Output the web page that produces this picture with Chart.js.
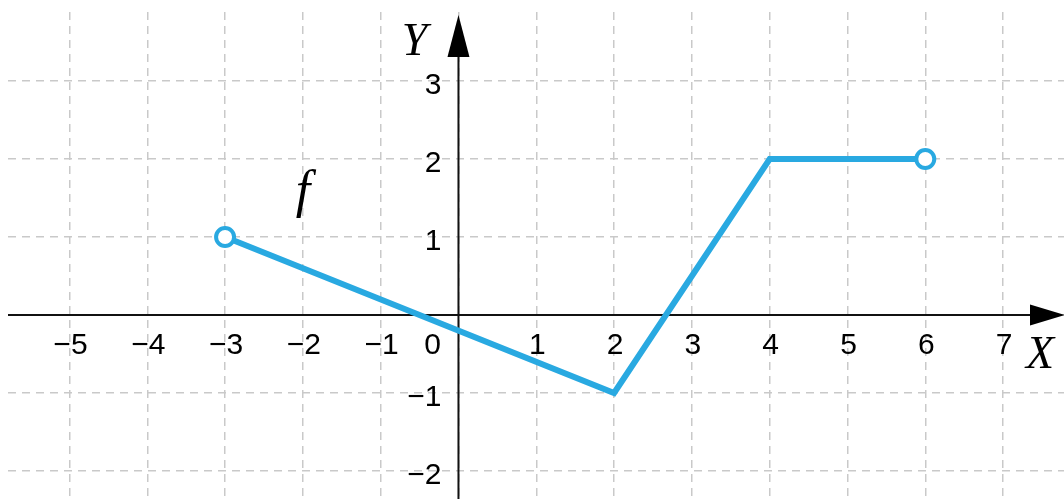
<!DOCTYPE html>
<html>
<head>
<meta charset="utf-8">
<script src="https://cdn.jsdelivr.net/npm/chart.js@4"></script>
<style>
  body { margin: 0; background: #fff; }
  #wrap { width: 1064px; height: 499px; position: relative; }
</style>
</head>
<body>
<div id="wrap"><canvas id="chart"></canvas></div>
<script>
// graph of f: corner points, open ends marked
const xValues = [-3, 2, 4, 6]
const yValues = [1, -1, 2, 2]
const openEnds = [true, false, false, true]

// tick labels
const xTicks = [-5, -4, -3, -2, -1, 1, 2, 3, 4, 5, 6, 7]
const yTicks = [-2, -1, 1, 2, 3]

const BLUE = '#29a9e1'
const LABEL_FONT = "30px 'Liberation Sans', Arial, sans-serif"
const ITALIC_FONT = "italic 46px 'Liberation Serif', 'Times New Roman', serif"

const fmt = (v) => (v < 0 ? '\u2212' + Math.abs(v) : String(v))

const axesPlugin = {
  id: 'axes',
  beforeDatasetsDraw(chart) {
    const { ctx, scales } = chart
    const x = scales.x
    const y = scales.y
    const x0 = x.getPixelForValue(0)
    const y0 = y.getPixelForValue(0)
    const area = chart.chartArea

    ctx.save()
    ctx.strokeStyle = '#111'
    ctx.fillStyle = '#000'
    ctx.lineWidth = 2

    // x axis with arrow
    ctx.beginPath()
    ctx.moveTo(area.left, y0)
    ctx.lineTo(area.right - 20, y0)
    ctx.stroke()
    ctx.beginPath()
    ctx.moveTo(area.right + 1, y0)
    ctx.lineTo(area.right - 34, y0 - 10.5)
    ctx.lineTo(area.right - 34, y0 + 10.5)
    ctx.closePath()
    ctx.fill()

    // y axis with arrow
    ctx.beginPath()
    ctx.moveTo(x0, area.bottom)
    ctx.lineTo(x0, 40)
    ctx.stroke()
    ctx.beginPath()
    ctx.moveTo(x0, 15)
    ctx.lineTo(x0 - 11, 57)
    ctx.lineTo(x0 + 11, 57)
    ctx.closePath()
    ctx.fill()

    // tick labels
    ctx.font = LABEL_FONT
    ctx.textBaseline = 'alphabetic'
    ctx.textAlign = 'center'
    xTicks.forEach((v) => {
      ctx.fillText(fmt(v), x.getPixelForValue(v) + 1, y0 + 39)
    })
    ctx.fillText('0', x0 - 26, y0 + 39)
    ctx.textAlign = 'right'
    yTicks.forEach((v) => {
      ctx.fillText(fmt(v), x0 - 17, y.getPixelForValue(v) + 13)
    })

    // axis names and function name
    ctx.font = ITALIC_FONT
    ctx.textAlign = 'center'
    ctx.fillText('Y', x0 - 44, 55)
    ctx.fillText('X', area.right - 24, y0 + 53)
    ctx.font = "italic 52px 'Liberation Serif', 'Times New Roman', serif"
    ctx.textBaseline = 'middle'
    ctx.fillText('f', x.getPixelForValue(-2), y.getPixelForValue(1.56))
    ctx.restore()
  },
}

const config = {
  type: 'scatter',
  data: {
    datasets: [
      {
        label: 'f',
        data: xValues.map((v, i) => ({ x: v, y: yValues[i] })),
        showLine: true,
        borderColor: BLUE,
        borderWidth: 6,
        borderJoinStyle: 'miter',
        pointRadius: openEnds.map((o) => (o ? 9 : 0)),
        pointBorderWidth: 4,
        pointBackgroundColor: '#fff',
        pointBorderColor: BLUE,
      },
    ],
  },
  options: {
    responsive: true,
    maintainAspectRatio: false,
    animation: false,
    layout: { autoPadding: false, padding: { left: 8, top: 12, right: 0, bottom: 0 } },
    scales: {
      x: {
        type: 'linear',
        min: -5.79,
        max: 7.783,
        ticks: { display: false, stepSize: 1, includeBounds: false },
        grid: { color: '#c9c9c9', lineWidth: 1.5, drawTicks: false },
        border: { display: false, dash: [8, 6] },
      },
      y: {
        type: 'linear',
        min: -2.359,
        max: 3.885,
        ticks: { display: false, stepSize: 1, includeBounds: false },
        grid: { color: '#c9c9c9', lineWidth: 1.5, drawTicks: false },
        border: { display: false, dash: [8, 6] },
      },
    },
    plugins: {
      legend: { display: false },
      tooltip: { enabled: false },
    },
  },
  plugins: [axesPlugin],
}

new Chart(document.getElementById('chart'), config)
</script>
</body>
</html>
